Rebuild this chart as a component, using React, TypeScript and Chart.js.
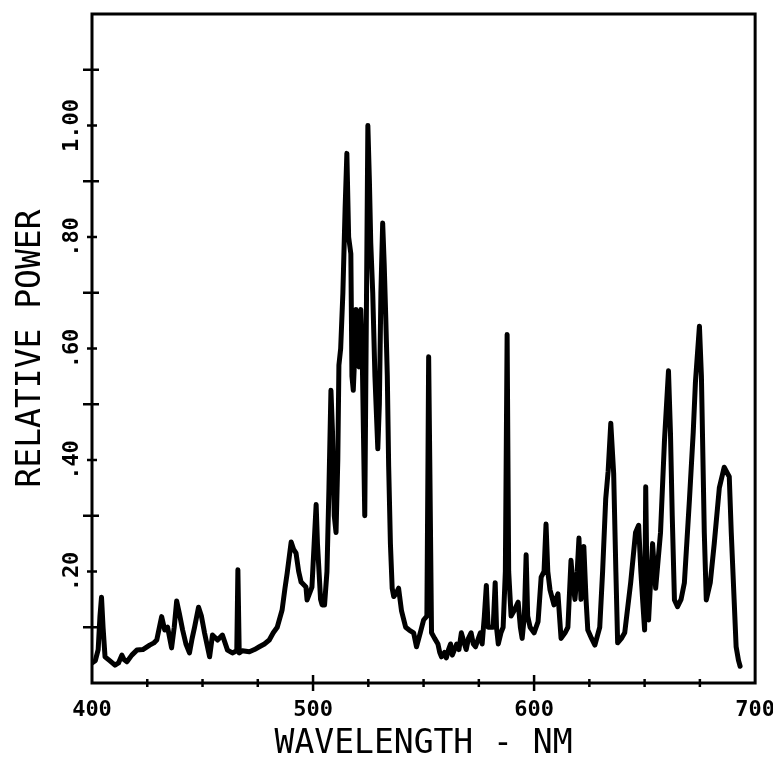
import React, { useEffect, useRef } from "react";
import { Chart, registerables } from "chart.js";

Chart.register(...registerables);

const wavelengthNm: number[] = [
  400.0, 401.5, 402.8, 403.6, 404.3, 405.0, 405.9, 408.0, 410.4, 412.0,
  413.5, 414.5, 415.8, 418.0, 420.3, 423.0, 426.1, 428.0, 429.3, 430.5,
  431.5, 432.9, 434.2, 436.0, 437.2, 438.3, 439.5, 441.0, 442.5, 444.1,
  445.3, 446.4, 448.2, 449.5, 450.9, 453.2, 454.5, 456.8, 459.0, 461.3,
  463.5, 465.5, 466.0, 466.6, 468.0, 471.2, 473.5, 475.7, 478.0, 480.2,
  482.0, 483.8, 486.0, 487.3, 488.3, 490.1, 491.2, 492.3, 493.5, 494.6,
  496.8, 497.3, 499.5, 500.5, 501.4, 502.0, 502.7, 503.4, 504.1, 505.2,
  506.3, 507.2, 508.1, 508.8, 509.6, 510.4, 511.2, 511.7, 512.5, 513.5,
  514.5, 515.3, 516.1, 517.1, 517.6, 518.2, 519.0, 519.4, 520.3, 520.8,
  521.6, 522.2, 522.8, 523.4, 524.0, 524.8, 525.5, 526.1, 527.0, 528.0,
  529.3, 530.0, 530.7, 531.5, 532.2, 532.9, 533.6, 534.2, 535.0, 535.8,
  536.5, 537.5, 538.7, 540.0, 541.9, 543.5, 545.5, 546.8, 548.5, 550.0,
  551.5, 552.0, 552.3, 552.8, 553.6, 555.0, 556.5, 557.3, 558.1, 559.5,
  560.3, 561.3, 562.2, 563.0, 564.0, 565.0, 566.0, 567.1, 568.5, 569.3,
  570.3, 571.5, 572.5, 573.5, 574.8, 575.7, 576.5, 577.5, 578.4,
  579.2, 580.2, 581.5, 582.4, 583.0, 583.8, 585.0, 586.0, 587.0, 587.8,
  588.5, 589.6, 591.0, 592.8, 593.8, 594.6, 595.6, 596.4, 597.1, 598.2,
  600.0, 601.8, 603.2, 604.5, 605.4, 606.2, 607.2, 609.0, 610.8, 612.2,
  614.0, 615.3, 616.7, 617.5, 618.5, 619.5, 620.3, 621.2, 622.0, 622.5,
  623.5, 624.3, 626.0, 627.5, 629.7, 631.0, 632.4, 633.5, 634.7, 636.0,
  637.0, 637.8, 639.5, 641.0, 643.7, 645.9, 647.3, 648.3, 649.1, 650.0,
  650.5, 651.0, 651.8, 653.6, 655.0, 657.2, 659.0, 660.8, 661.7, 662.5,
  663.5, 664.9, 666.5, 668.0, 670.3, 672.0, 673.0, 674.8, 675.7, 677.0,
  677.9, 679.7, 681.5, 683.8, 686.0, 688.3, 689.2, 690.5, 691.4, 692.5,
  693.2,
];

const relativePower: number[] = [
  0.036, 0.04, 0.06, 0.12, 0.154, 0.1, 0.047, 0.04, 0.032, 0.036,
  0.05, 0.042, 0.038, 0.05, 0.059, 0.06, 0.068, 0.072, 0.077, 0.1,
  0.119, 0.095, 0.1, 0.063, 0.1, 0.147, 0.125, 0.095, 0.07, 0.054,
  0.08, 0.1, 0.136, 0.12, 0.09, 0.047, 0.086, 0.077, 0.086, 0.059,
  0.054, 0.058, 0.203, 0.054, 0.058, 0.056, 0.06, 0.065, 0.07, 0.077,
  0.09, 0.1, 0.131, 0.17, 0.197, 0.253, 0.24, 0.233, 0.2, 0.181,
  0.172, 0.149, 0.172, 0.25, 0.32, 0.25, 0.2, 0.15, 0.14, 0.14,
  0.2, 0.35, 0.525, 0.45, 0.3, 0.27, 0.4, 0.57, 0.6, 0.7,
  0.85, 0.95, 0.8, 0.77, 0.55, 0.525, 0.6, 0.67, 0.58, 0.567,
  0.67, 0.6, 0.45, 0.3, 0.6, 1.0, 0.9, 0.79, 0.7, 0.55,
  0.42, 0.5, 0.7, 0.825, 0.75, 0.655, 0.55, 0.39, 0.25, 0.17,
  0.155, 0.16, 0.17, 0.13, 0.1, 0.095, 0.09, 0.065, 0.09, 0.113,
  0.12, 0.4, 0.585, 0.4, 0.09, 0.08, 0.07, 0.055, 0.047, 0.055,
  0.045, 0.06, 0.07, 0.05, 0.06, 0.07, 0.06, 0.09, 0.07, 0.06,
  0.08, 0.09, 0.07, 0.065, 0.08, 0.09, 0.07, 0.12, 0.175,
  0.1, 0.1, 0.1, 0.18, 0.1, 0.07, 0.09, 0.1, 0.2, 0.625,
  0.2, 0.12, 0.13, 0.145, 0.1, 0.08, 0.12, 0.23, 0.12, 0.1,
  0.09, 0.11, 0.19, 0.2, 0.285, 0.2, 0.167, 0.14, 0.16, 0.08,
  0.09, 0.1, 0.22, 0.18, 0.15, 0.2, 0.26, 0.15, 0.2, 0.245,
  0.15, 0.095, 0.08, 0.068, 0.1, 0.2, 0.33, 0.38, 0.466, 0.376,
  0.2, 0.072, 0.08, 0.09, 0.18, 0.27, 0.283, 0.2, 0.149, 0.095,
  0.352, 0.2, 0.113, 0.25, 0.17, 0.27, 0.436, 0.56, 0.448, 0.3,
  0.149, 0.137, 0.15, 0.18, 0.33, 0.45, 0.54, 0.64, 0.55, 0.27,
  0.149, 0.18, 0.25, 0.35, 0.387, 0.37, 0.27, 0.149, 0.065, 0.04,
  0.03,
];

const xTickLabels: Record<number, string> = { 400: "400", 500: "500", 600: "600", 700: "700" };
const yTickLabels: Record<number, string> = { 2: ".20", 4: ".40", 6: ".60", 8: ".80", 10: "1.00" };

const monoFont = "'DejaVu Sans Mono', monospace";

const frameAndTicks = {
  id: "frameAndTicks",
  afterDraw(chart: any) {
    const { ctx, chartArea, scales } = chart;
    const { left, right, top, bottom } = chartArea;
    ctx.save();
    ctx.strokeStyle = "#000";
    ctx.lineCap = "butt";
    ctx.lineWidth = 3;
    ctx.strokeRect(left, top, right - left, bottom - top);
    ctx.lineWidth = 2.5;
    for (let v = 425; v < 700; v += 25) {
      const px = scales.x.getPixelForValue(v);
      const major = v % 100 === 0;
      ctx.beginPath();
      ctx.moveTo(px, bottom - (major ? 8 : 4));
      ctx.lineTo(px, bottom + (major ? 8 : 4));
      ctx.stroke();
    }
    for (let i = 1; i <= 11; i++) {
      const py = scales.y.getPixelForValue(i / 10);
      const odd = i % 2 === 1;
      ctx.beginPath();
      ctx.moveTo(left - (odd ? 9 : 5), py);
      ctx.lineTo(left + (odd ? 7 : 5), py);
      ctx.stroke();
    }
    ctx.restore();
  },
};

export default function App() {
  const canvasRef = useRef<HTMLCanvasElement | null>(null);

  useEffect(() => {
    if (!canvasRef.current) return;
    const points = wavelengthNm.map((w, i) => ({ x: w, y: relativePower[i] }));
    const chart = new Chart(canvasRef.current, {
      type: "line",
      data: {
        datasets: [
          {
            data: points,
            borderColor: "#000",
            borderWidth: 5,
            pointRadius: 0,
            tension: 0,
            borderJoinStyle: "round",
            borderCapStyle: "round",
            fill: false,
          },
        ],
      },
      options: {
        animation: false,
        responsive: false,
        devicePixelRatio: 1,
        layout: { padding: { top: 14, right: 22, left: 0, bottom: 0 } },
        plugins: { legend: { display: false }, tooltip: { enabled: false } },
        scales: {
          x: {
            type: "linear",
            min: 400,
            max: 700,
            grid: { display: false },
            border: { display: false },
            afterFit: (s: any) => {
              s.height = 78;
            },
            ticks: {
              stepSize: 25,
              autoSkip: false,
              maxRotation: 0,
              minRotation: 0,
              padding: 6,
              color: "#000",
              font: { family: monoFont, size: 22, weight: "bold" },
              callback: (v: any) => xTickLabels[Math.round(Number(v))] ?? "",
            },
            title: {
              display: true,
              text: "WAVELENGTH - NM",
              color: "#000",
              font: { family: monoFont, size: 33, lineHeight: 1 },
              padding: { top: 0, bottom: 0 },
            },
          },
          y: {
            type: "linear",
            min: 0,
            max: 1.2,
            grid: { display: false },
            border: { display: false },
            afterFit: (s: any) => {
              s.width = 92;
            },
            ticks: {
              stepSize: 0.1,
              autoSkip: false,
              minRotation: 90,
              maxRotation: 90,
              crossAlign: "center",
              padding: -15,
              color: "#000",
              font: { family: monoFont, size: 22, weight: "bold" },
              callback: (v: any) => yTickLabels[Math.round(Number(v) * 10)] ?? "",
            },
            title: {
              display: true,
              text: "RELATIVE POWER",
              color: "#000",
              font: { family: monoFont, size: 33, lineHeight: 1 },
              padding: { top: 15, bottom: 0 },
            },
          },
        },
      },
      plugins: [frameAndTicks],
    });
    return () => chart.destroy();
  }, []);

  return (
    <div style={{ width: 781, height: 761, margin: -8 }}>
      <canvas ref={canvasRef} width={781} height={761} style={{ display: "block" }} />
    </div>
  );
}
